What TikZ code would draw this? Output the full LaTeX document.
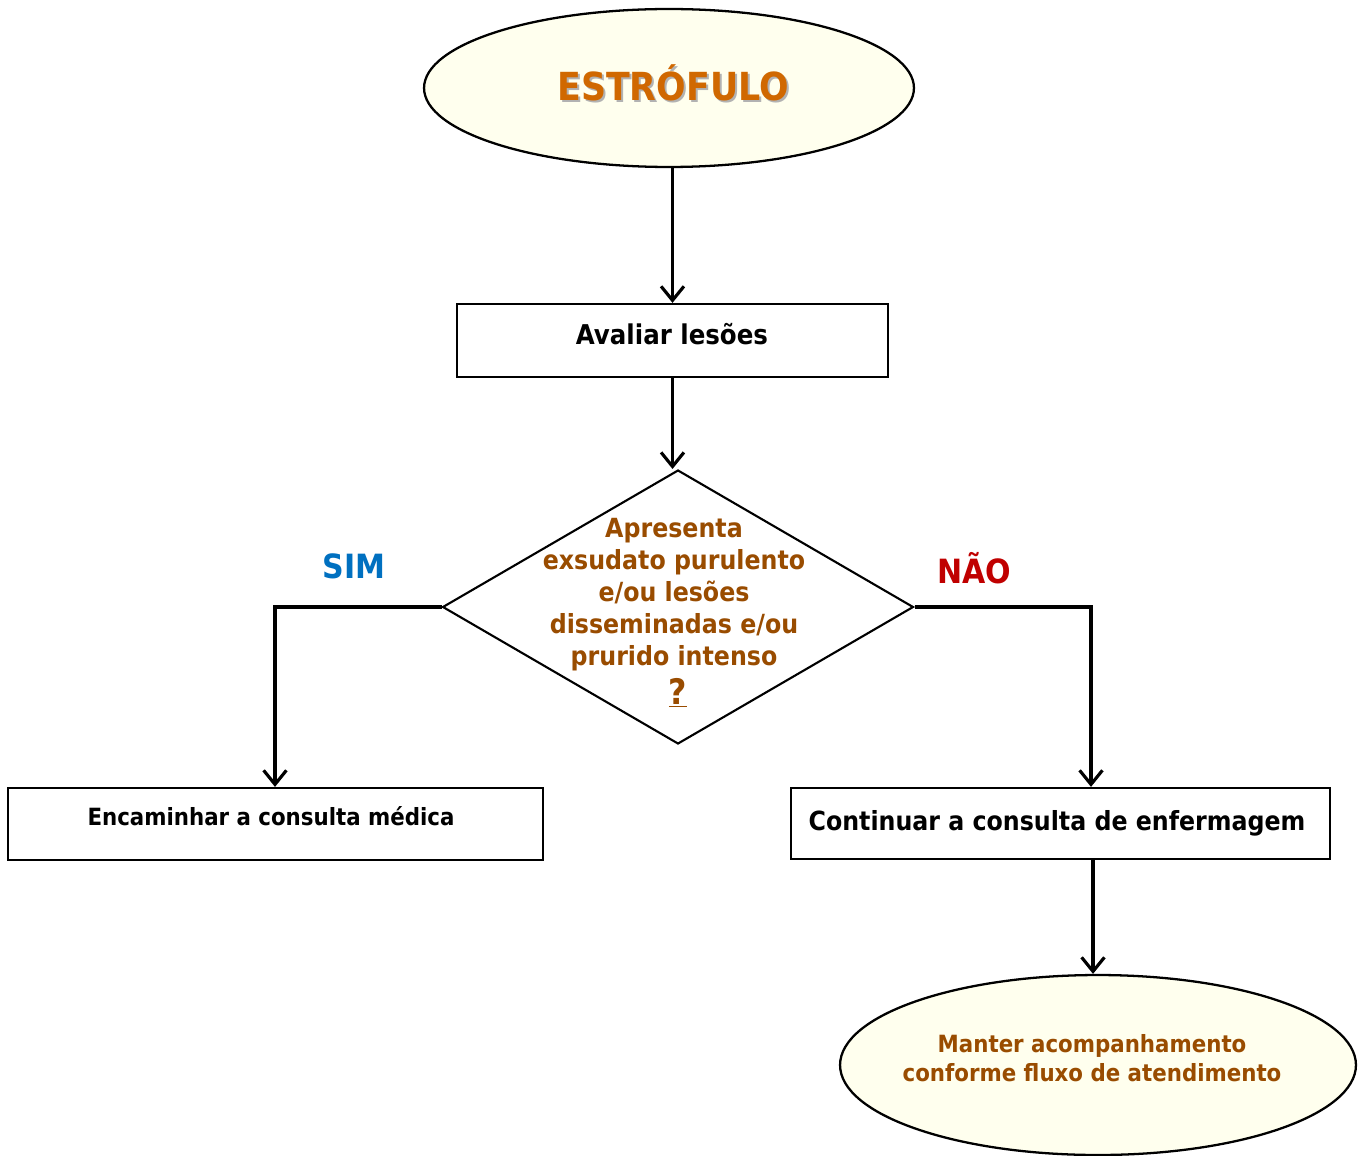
\documentclass[tikz,border=0pt]{standalone}
\usepackage{fontspec}
\setmainfont{DejaVu Sans Condensed}
\usetikzlibrary{arrows.meta,shapes.geometric}
\definecolor{cream}{RGB}{255,255,238}
\definecolor{titleorange}{RGB}{208,104,0}
\definecolor{qbrown}{RGB}{153,76,0}
\definecolor{simblue}{RGB}{0,112,192}
\definecolor{naored}{RGB}{192,0,0}
\begin{document}
\begin{tikzpicture}[x=0.02cm,y=-0.02cm,
  terminal/.style={ellipse,draw=black,line width=1.3pt,fill=cream,inner sep=0pt},
  stepbox/.style={rectangle,draw=black,line width=1.3pt,inner sep=0pt},
  decision/.style={diamond,draw=black,line width=1.2pt,inner sep=0pt},
  txt/.style={font=\bfseries\fontsize{15}{18}\selectfont,align=center,inner sep=0pt},
  flow/.style={line width=1.8pt,-{Straight Barb[length=8pt,width=13pt,line width=1.8pt]}},
  plainline/.style={line width=1.8pt}]
\useasboundingbox (0,0) rectangle (1364,1155);
\fill[white] (0,0) rectangle (1364,1155);

% start terminal
\node[terminal,minimum width=9.8cm,minimum height=3.16cm] (start) at (669,88) {};
\node[txt,text=gray!60,font=\bfseries\fontsize{22}{26}\selectfont] (titleshadow) at (675,85) {ESTRÓFULO};
\node[txt,text=titleorange,font=\bfseries\fontsize{22}{26}\selectfont] (title) at (673,83) {ESTRÓFULO};

% evaluate
\node[stepbox,minimum width=8.62cm,minimum height=1.46cm] (avaliar) at (672.5,340.5) {};
\node[txt,font=\bfseries\fontsize{15.5}{18}\selectfont] (tavaliar) at (672,334) {Avaliar lesões};

% decision
\node[decision,minimum width=9.42cm,minimum height=5.48cm] (dec) at (678,607) {};
\node[txt,text=qbrown,font=\bfseries\fontsize{15}{18.3}\selectfont] (tdec) at (674,594.5)
  {Apresenta\\exsudato purulento\\e/ou lesões\\disseminadas e/ou\\prurido intenso};
\node[txt,text=qbrown,font=\bfseries\fontsize{20}{24}\selectfont] (qmark) at (678,693) {\underline{?}};

\node[txt,text=simblue,font=\bfseries\fontsize{19}{22}\selectfont] (sim) at (354,566) {SIM};
\node[txt,text=naored,font=\bfseries\fontsize{19}{22}\selectfont] (nao) at (974,568) {NÃO};

% outcomes
\node[stepbox,minimum width=10.7cm,minimum height=1.44cm] (enc) at (275.5,824) {};
\node[txt,font=\bfseries\fontsize{13.5}{16}\selectfont] (tenc) at (271,816) {Encaminhar a consulta médica};

\node[stepbox,minimum width=10.78cm,minimum height=1.42cm] (cont) at (1060.5,823.5) {};
\node[txt] (tcont) at (1057,823.5) {Continuar a consulta de enfermagem};

\node[terminal,minimum width=10.32cm,minimum height=3.6cm] (finish) at (1098,1065) {};
\node[txt,text=qbrown,font=\bfseries\fontsize{13.5}{16.4}\selectfont] (tfinish) at (1092,1058)
  {Manter acompanhamento\\conforme fluxo de atendimento};

% connectors
\coordinate (yesturn) at (275,607);
\coordinate (noturn) at (1091,607);
\coordinate (downstart) at (1093,860);
\draw[flow] (start.south -| avaliar.north) -- (avaliar.north);
\draw[flow] (avaliar.south) -- (avaliar.south |- dec.north);
\draw[flow] (dec.west) -- (yesturn) -- (yesturn |- enc.north);
\draw[flow] (dec.east) -- (noturn) -- (noturn |- cont.north);
\draw[flow] (downstart) -- (downstart |- finish.north);
\end{tikzpicture}
\end{document}
